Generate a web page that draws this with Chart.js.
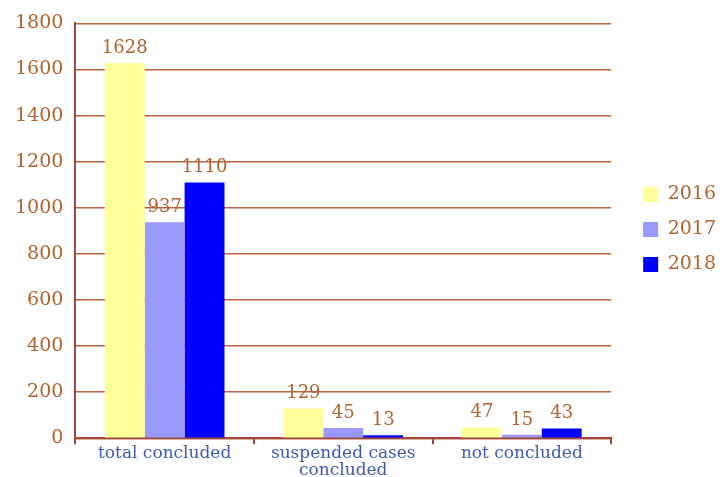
<!DOCTYPE html>
<html>
<head>
<meta charset="utf-8">
<script src="https://cdn.jsdelivr.net/npm/chart.js@4/dist/chart.umd.min.js"></script>
<style>
  html, body { margin: 0; padding: 0; background: #ffffff; }
  #wrap { width: 724px; height: 477px; }
</style>
</head>
<body>
<div id="wrap"><canvas id="c" width="724" height="477"></canvas></div>
<script>
// Cases by outcome, per year
const categories = ["total concluded", ["suspended cases", "concluded"], "not concluded"];
const years = ["2016", "2017", "2018"];
const values2016 = [1628, 129, 47];
const values2017 = [937, 45, 15];
const values2018 = [1110, 13, 43];
const yTicks = [0, 200, 400, 600, 800, 1000, 1200, 1400, 1600, 1800];

const brown = "#b2622f";
const gridBrown = "#b9643f";
const axisBrown = "#a0463f";
const labelBlue = "#3f5bb0";
const serif = "'DejaVu Serif', serif";

// Value printed above each bar
const valueLabels = {
  id: "valueLabels",
  afterDatasetsDraw(chart) {
    const ctx = chart.ctx;
    ctx.save();
    ctx.font = "18px " + serif;
    ctx.fillStyle = brown;
    ctx.textAlign = "center";
    ctx.textBaseline = "bottom";
    chart.data.datasets.forEach((ds, i) => {
      chart.getDatasetMeta(i).data.forEach((bar, j) => {
        ctx.fillText(String(ds.data[j]), bar.x, bar.y - 6);
      });
    });
    ctx.restore();
  }
};

// Nudge the legend block up and to the right of its default slot
const legendShift = {
  id: "legendShift",
  afterLayout(chart) {
    const lg = chart.legend;
    if (lg) {
      lg.top -= 18; lg.bottom -= 18;
      lg.left += 16; lg.right += 16;
    }
  }
};

new Chart(document.getElementById("c"), {
  type: "bar",
  data: {
    labels: categories,
    datasets: [
      { label: years[0], data: values2016, backgroundColor: "#ffff99" },
      { label: years[1], data: values2017, backgroundColor: "#9999ff" },
      { label: years[2], data: values2018, backgroundColor: "#0000ff" }
    ]
  },
  options: {
    responsive: false,
    animation: false,
    layout: { padding: { top: 15, right: 14, left: 3, bottom: -3 } },
    datasets: { bar: { categoryPercentage: 0.67, barPercentage: 1.0 } },
    plugins: {
      legend: {
        position: "right",
        align: "center",
        labels: {
          boxWidth: 15,
          boxHeight: 15,
          padding: 16,
          color: brown,
          font: { family: serif, size: 19 }
        }
      },
      tooltip: { enabled: false }
    },
    scales: {
      x: {
        grid: {
          offset: true,
          drawOnChartArea: false,
          color: axisBrown,
          tickLength: 6,
          lineWidth: 2
        },
        border: { color: axisBrown, width: 2 },
        ticks: {
          color: labelBlue,
          font: { family: serif, size: 17, lineHeight: 1.05 },
          maxRotation: 0,
          padding: 0
        }
      },
      y: {
        min: 0,
        max: 1800,
        afterBuildTicks(axis) { axis.ticks = yTicks.map(v => ({ value: v })); },
        grid: { color: gridBrown, lineWidth: 1.5, drawTicks: false },
        border: { color: axisBrown, width: 2 },
        ticks: {
          color: brown,
          font: { family: serif, size: 19 },
          padding: 12,
          callback: (v) => String(v)
        }
      }
    }
  },
  plugins: [valueLabels, legendShift]
});
</script>
</body>
</html>
